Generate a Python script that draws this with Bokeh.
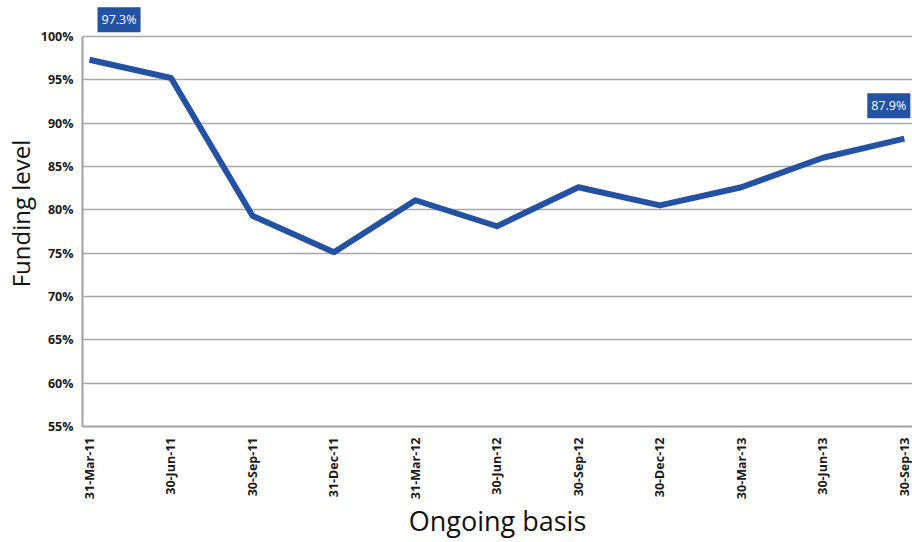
import math
from bokeh.plotting import figure
from bokeh.models import Range1d, FixedTicker, Label, ColumnDataSource
from bokeh.embed import file_html
from bokeh.resources import INLINE

dates = ["31-Mar-11", "30-Jun-11", "30-Sep-11", "31-Dec-11", "31-Mar-12", "30-Jun-12",
         "30-Sep-12", "30-Dec-12", "30-Mar-13", "30-Jun-13", "30-Sep-13"]
funding = [97.3, 95.2, 79.3, 75.1, 81.1, 78.1, 82.6, 80.5, 82.6, 86.0, 88.2]
y_ticks = [55, 60, 65, 70, 75, 80, 85, 90, 95, 100]

BLUE = "#2352a3"
FONT = "Open Sans"

idx = list(range(len(dates)))
src = ColumnDataSource(dict(x=idx, y=funding))

p = figure(width=912, height=542, output_backend="svg", toolbar_location=None,
           x_range=Range1d(-0.086, 10.1), y_range=Range1d(55, 104.14),
           min_border_left=82, min_border_right=0, min_border_top=0, min_border_bottom=115)
p.outline_line_color = None
p.background_fill_color = "white"
p.border_fill_color = "white"

p.line("x", "y", source=src, line_color=BLUE, line_width=6, line_join="round")

# axes
p.yaxis.ticker = FixedTicker(ticks=y_ticks)
p.yaxis.bounds = (55, 100)
p.yaxis.major_label_overrides = {t: f"{t}%" for t in y_ticks}
p.yaxis.axis_label = "Funding level"
p.xaxis.ticker = FixedTicker(ticks=idx)
p.xaxis.major_label_overrides = {i: d for i, d in zip(idx, dates)}
p.xaxis.major_label_orientation = math.pi / 2
p.xaxis.axis_label = "Ongoing basis"

for ax in (p.xaxis, p.yaxis):
    ax.major_tick_line_color = None
    ax.minor_tick_line_color = None
    ax.axis_line_color = "#a0a0a0"
    ax.axis_line_width = 2
    ax.major_label_text_font = FONT
    ax.major_label_text_font_style = "bold"
    ax.major_label_text_color = "#1a1a1a"
    ax.axis_label_text_font = FONT
    ax.axis_label_text_font_style = "normal"
    ax.axis_label_text_color = "#111111"
p.xaxis.axis_label_text_font_size = "27px"
p.yaxis.axis_label_text_font_size = "24px"
p.yaxis.major_label_text_font_size = "12.5px"
p.xaxis.major_label_text_font_size = "12.5px"
p.yaxis.major_label_standoff = 3
p.xaxis.major_label_standoff = 5
p.xaxis.axis_label_standoff = 0
p.yaxis.axis_label_standoff = 1

p.xgrid.grid_line_color = None
p.ygrid.grid_line_color = "#a8a8a8"
p.ygrid.grid_line_width = 1.5

# value labels
p.add_layout(Label(x=idx[0], y=funding[0], text="97.3%", x_offset=8, y_offset=40,
                   text_align="left", text_baseline="middle", text_color="white",
                   text_font=FONT, text_font_size="12.5px",
                   background_fill_color=BLUE, padding=4))
p.add_layout(Label(x=idx[-1], y=funding[-1], text="87.9%", x_offset=6, y_offset=33,
                   text_align="right", text_baseline="middle", text_color="white",
                   text_font=FONT, text_font_size="12.5px",
                   background_fill_color=BLUE, padding=4))

open("out.html", "w").write(file_html(p, INLINE))
